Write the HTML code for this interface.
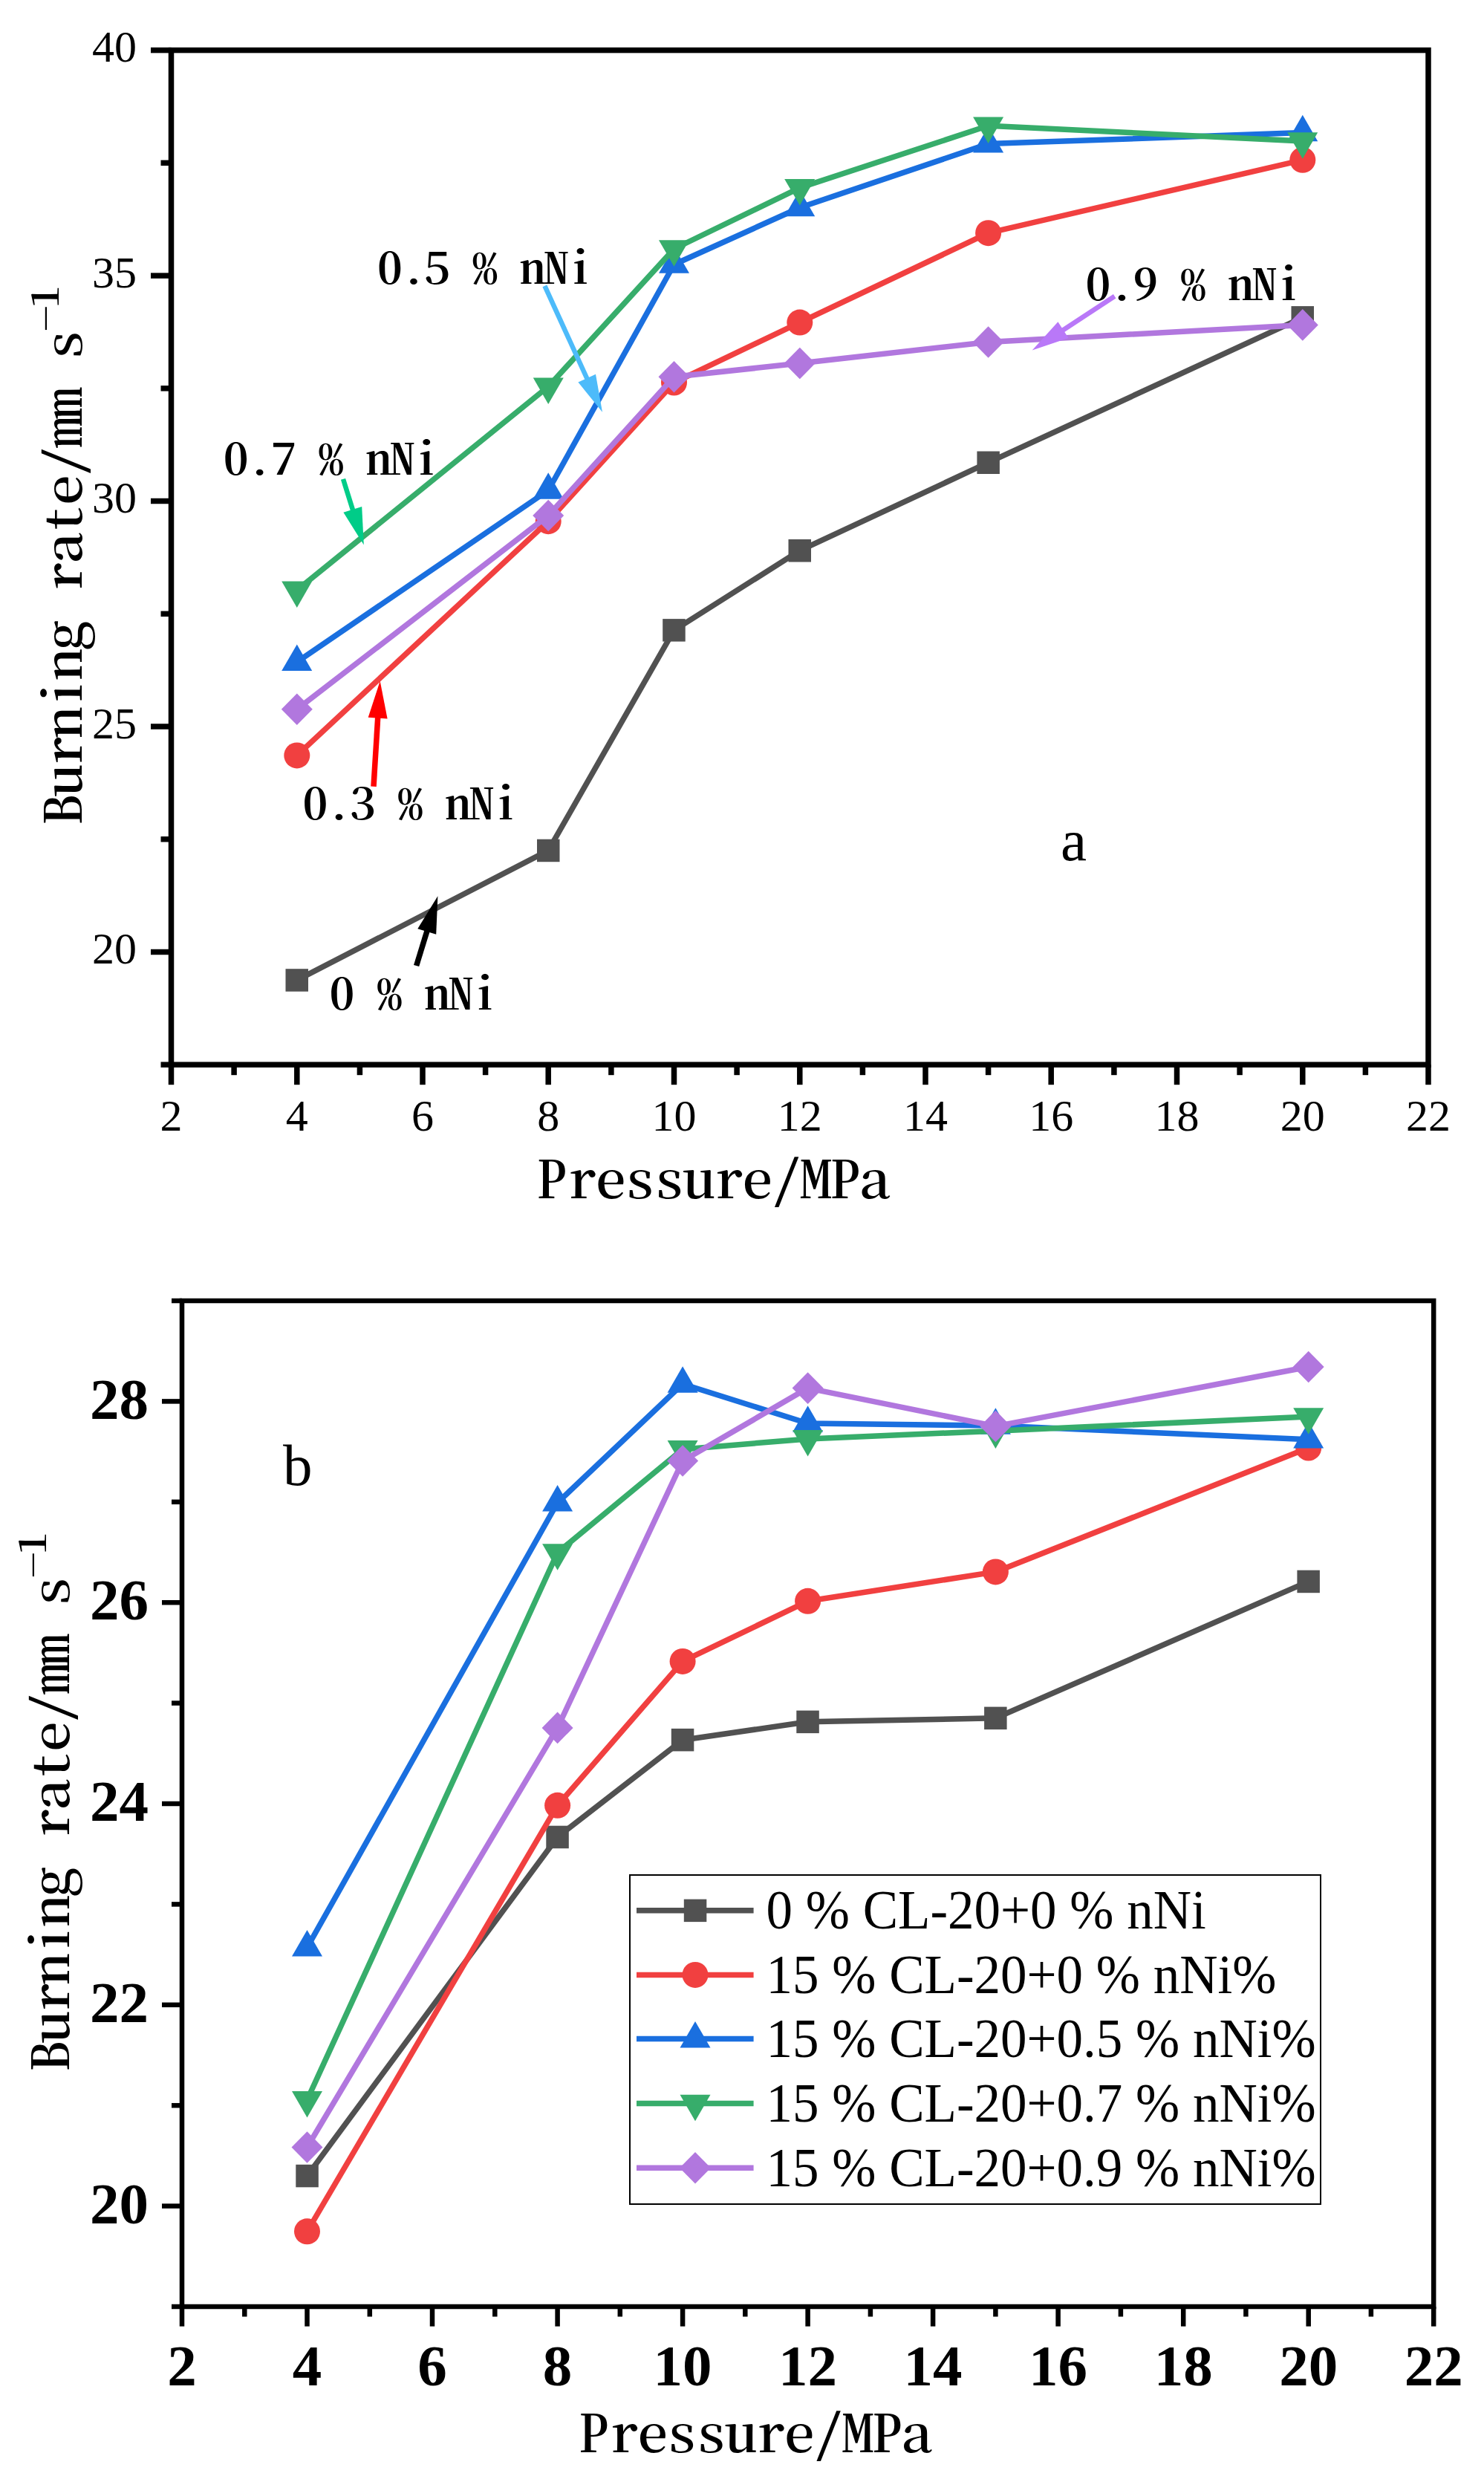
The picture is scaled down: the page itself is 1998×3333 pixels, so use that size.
<!DOCTYPE html><html><head><meta charset="utf-8"><title>Burning rate vs pressure</title><style>html,body{margin:0;padding:0;background:#fff;}svg{display:block;}.cj{font-feature-settings:"hwid" 1;}</style></head><body>
<svg width="1998" height="3333" viewBox="0 0 1998 3333">
<rect width="1998" height="3333" fill="#fff"/>
<line x1="230.5" y1="1433.2" x2="230.5" y2="1460.2" stroke="#000" stroke-width="7.5"/>
<line x1="315.1" y1="1433.2" x2="315.1" y2="1447.2" stroke="#000" stroke-width="7.5"/>
<line x1="399.8" y1="1433.2" x2="399.8" y2="1460.2" stroke="#000" stroke-width="7.5"/>
<line x1="484.4" y1="1433.2" x2="484.4" y2="1447.2" stroke="#000" stroke-width="7.5"/>
<line x1="569.0" y1="1433.2" x2="569.0" y2="1460.2" stroke="#000" stroke-width="7.5"/>
<line x1="653.6" y1="1433.2" x2="653.6" y2="1447.2" stroke="#000" stroke-width="7.5"/>
<line x1="738.2" y1="1433.2" x2="738.2" y2="1460.2" stroke="#000" stroke-width="7.5"/>
<line x1="822.9" y1="1433.2" x2="822.9" y2="1447.2" stroke="#000" stroke-width="7.5"/>
<line x1="907.5" y1="1433.2" x2="907.5" y2="1460.2" stroke="#000" stroke-width="7.5"/>
<line x1="992.1" y1="1433.2" x2="992.1" y2="1447.2" stroke="#000" stroke-width="7.5"/>
<line x1="1076.8" y1="1433.2" x2="1076.8" y2="1460.2" stroke="#000" stroke-width="7.5"/>
<line x1="1161.4" y1="1433.2" x2="1161.4" y2="1447.2" stroke="#000" stroke-width="7.5"/>
<line x1="1246.0" y1="1433.2" x2="1246.0" y2="1460.2" stroke="#000" stroke-width="7.5"/>
<line x1="1330.6" y1="1433.2" x2="1330.6" y2="1447.2" stroke="#000" stroke-width="7.5"/>
<line x1="1415.2" y1="1433.2" x2="1415.2" y2="1460.2" stroke="#000" stroke-width="7.5"/>
<line x1="1499.9" y1="1433.2" x2="1499.9" y2="1447.2" stroke="#000" stroke-width="7.5"/>
<line x1="1584.5" y1="1433.2" x2="1584.5" y2="1460.2" stroke="#000" stroke-width="7.5"/>
<line x1="1669.1" y1="1433.2" x2="1669.1" y2="1447.2" stroke="#000" stroke-width="7.5"/>
<line x1="1753.8" y1="1433.2" x2="1753.8" y2="1460.2" stroke="#000" stroke-width="7.5"/>
<line x1="1838.4" y1="1433.2" x2="1838.4" y2="1447.2" stroke="#000" stroke-width="7.5"/>
<line x1="1923.0" y1="1433.2" x2="1923.0" y2="1460.2" stroke="#000" stroke-width="7.5"/>
<line x1="216.5" y1="1433.2" x2="230.5" y2="1433.2" stroke="#000" stroke-width="7.5"/>
<line x1="203.0" y1="1281.5" x2="230.5" y2="1281.5" stroke="#000" stroke-width="7.5"/>
<line x1="216.5" y1="1129.7" x2="230.5" y2="1129.7" stroke="#000" stroke-width="7.5"/>
<line x1="203.0" y1="978.0" x2="230.5" y2="978.0" stroke="#000" stroke-width="7.5"/>
<line x1="216.5" y1="826.3" x2="230.5" y2="826.3" stroke="#000" stroke-width="7.5"/>
<line x1="203.0" y1="674.5" x2="230.5" y2="674.5" stroke="#000" stroke-width="7.5"/>
<line x1="216.5" y1="522.8" x2="230.5" y2="522.8" stroke="#000" stroke-width="7.5"/>
<line x1="203.0" y1="371.1" x2="230.5" y2="371.1" stroke="#000" stroke-width="7.5"/>
<line x1="216.5" y1="219.3" x2="230.5" y2="219.3" stroke="#000" stroke-width="7.5"/>
<line x1="203.0" y1="67.6" x2="230.5" y2="67.6" stroke="#000" stroke-width="7.5"/>
<rect x="230.5" y="67.6" width="1692.5" height="1365.6" fill="none" stroke="#000" stroke-width="7.5"/>
<text x="230.5" y="1521.7" font-family="'Liberation Serif','Times New Roman',serif" font-size="60" text-anchor="middle">2</text>
<text x="399.8" y="1521.7" font-family="'Liberation Serif','Times New Roman',serif" font-size="60" text-anchor="middle">4</text>
<text x="569.0" y="1521.7" font-family="'Liberation Serif','Times New Roman',serif" font-size="60" text-anchor="middle">6</text>
<text x="738.2" y="1521.7" font-family="'Liberation Serif','Times New Roman',serif" font-size="60" text-anchor="middle">8</text>
<text x="907.5" y="1521.7" font-family="'Liberation Serif','Times New Roman',serif" font-size="60" text-anchor="middle">10</text>
<text x="1076.8" y="1521.7" font-family="'Liberation Serif','Times New Roman',serif" font-size="60" text-anchor="middle">12</text>
<text x="1246.0" y="1521.7" font-family="'Liberation Serif','Times New Roman',serif" font-size="60" text-anchor="middle">14</text>
<text x="1415.2" y="1521.7" font-family="'Liberation Serif','Times New Roman',serif" font-size="60" text-anchor="middle">16</text>
<text x="1584.5" y="1521.7" font-family="'Liberation Serif','Times New Roman',serif" font-size="60" text-anchor="middle">18</text>
<text x="1753.8" y="1521.7" font-family="'Liberation Serif','Times New Roman',serif" font-size="60" text-anchor="middle">20</text>
<text x="1923.0" y="1521.7" font-family="'Liberation Serif','Times New Roman',serif" font-size="60" text-anchor="middle">22</text>
<text x="184" y="1297.1" font-family="'Liberation Serif','Times New Roman',serif" font-size="60" text-anchor="end">20</text>
<text x="184" y="993.6" font-family="'Liberation Serif','Times New Roman',serif" font-size="60" text-anchor="end">25</text>
<text x="184" y="690.1" font-family="'Liberation Serif','Times New Roman',serif" font-size="60" text-anchor="end">30</text>
<text x="184" y="386.7" font-family="'Liberation Serif','Times New Roman',serif" font-size="60" text-anchor="end">35</text>
<text x="184" y="83.2" font-family="'Liberation Serif','Times New Roman',serif" font-size="60" text-anchor="end">40</text>
<polyline points="399.8,1319.4 738.2,1144.9 907.5,848.4 1076.8,741.2 1330.6,622.7 1753.8,427.4" fill="none" stroke="#515151" stroke-width="7.5" stroke-linejoin="round"/><rect x="384.5" y="1304.2" width="30.5" height="30.5" fill="#515151"/><rect x="723.0" y="1129.7" width="30.5" height="30.5" fill="#515151"/><rect x="892.2" y="833.1" width="30.5" height="30.5" fill="#515151"/><rect x="1061.5" y="726.0" width="30.5" height="30.5" fill="#515151"/><rect x="1315.4" y="607.5" width="30.5" height="30.5" fill="#515151"/><rect x="1738.5" y="412.1" width="30.5" height="30.5" fill="#515151"/>
<polyline points="399.8,1016.9 738.2,701.7 907.5,515.0 1076.8,434.1 1330.6,313.7 1753.8,215.3" fill="none" stroke="#F14040" stroke-width="7.5" stroke-linejoin="round"/><circle cx="399.8" cy="1016.9" r="17.5" fill="#F14040"/><circle cx="738.2" cy="701.7" r="17.5" fill="#F14040"/><circle cx="907.5" cy="515.0" r="17.5" fill="#F14040"/><circle cx="1076.8" cy="434.1" r="17.5" fill="#F14040"/><circle cx="1330.6" cy="313.7" r="17.5" fill="#F14040"/><circle cx="1753.8" cy="215.3" r="17.5" fill="#F14040"/>
<polyline points="399.8,891.2 738.2,660.0 907.5,356.0 1076.8,279.5 1330.6,193.6 1753.8,178.5" fill="none" stroke="#1A6FDF" stroke-width="7.5" stroke-linejoin="round"/><polygon points="399.8,867.5 420.2,903.0 379.2,903.0" fill="#1A6FDF"/><polygon points="738.2,636.3 758.8,671.8 717.8,671.8" fill="#1A6FDF"/><polygon points="907.5,332.3 928.0,367.8 887.0,367.8" fill="#1A6FDF"/><polygon points="1076.8,255.8 1097.2,291.3 1056.2,291.3" fill="#1A6FDF"/><polygon points="1330.6,169.9 1351.1,205.4 1310.1,205.4" fill="#1A6FDF"/><polygon points="1753.8,154.8 1774.2,190.3 1733.2,190.3" fill="#1A6FDF"/>
<polyline points="399.8,794.4 738.2,520.4 907.5,335.0 1076.8,252.8 1330.6,169.3 1753.8,190.0" fill="none" stroke="#37AD6B" stroke-width="7.5" stroke-linejoin="round"/><polygon points="399.8,818.1 420.2,782.6 379.2,782.6" fill="#37AD6B"/><polygon points="738.2,544.1 758.8,508.6 717.8,508.6" fill="#37AD6B"/><polygon points="907.5,358.7 928.0,323.2 887.0,323.2" fill="#37AD6B"/><polygon points="1076.8,276.5 1097.2,241.0 1056.2,241.0" fill="#37AD6B"/><polygon points="1330.6,193.0 1351.1,157.5 1310.1,157.5" fill="#37AD6B"/><polygon points="1753.8,213.7 1774.2,178.2 1733.2,178.2" fill="#37AD6B"/>
<polyline points="399.8,954.8 738.2,694.0 907.5,507.3 1076.8,489.0 1330.6,460.5 1753.8,437.4" fill="none" stroke="#B177DE" stroke-width="7.5" stroke-linejoin="round"/><polygon points="399.8,933.5 420.8,954.8 399.8,976.1 378.8,954.8" fill="#B177DE"/><polygon points="738.2,672.7 759.2,694.0 738.2,715.3 717.2,694.0" fill="#B177DE"/><polygon points="907.5,486.0 928.5,507.3 907.5,528.6 886.5,507.3" fill="#B177DE"/><polygon points="1076.8,467.7 1097.8,489.0 1076.8,510.3 1055.8,489.0" fill="#B177DE"/><polygon points="1330.6,439.2 1351.6,460.5 1330.6,481.8 1309.6,460.5" fill="#B177DE"/><polygon points="1753.8,416.1 1774.8,437.4 1753.8,458.7 1732.8,437.4" fill="#B177DE"/>
<text class="cj" transform="translate(508.0,382.2) scale(1.0600,0.9)" font-family="'Noto Serif CJK SC','Noto Serif CJK JP',serif" font-size="64" font-weight="600" letter-spacing="-1.81" >0.5 % nNi</text>
<text class="cj" transform="translate(300.8,638.8) scale(1.0600,0.9)" font-family="'Noto Serif CJK SC','Noto Serif CJK JP',serif" font-size="64" font-weight="600" letter-spacing="-1.81" >0.7 % nNi</text>
<text class="cj" transform="translate(407.6,1103.4) scale(1.0600,0.9)" font-family="'Noto Serif CJK SC','Noto Serif CJK JP',serif" font-size="64" font-weight="600" letter-spacing="-1.81" >0.3 % nNi</text>
<text class="cj" transform="translate(443.5,1359.0) scale(1.0600,0.9)" font-family="'Noto Serif CJK SC','Noto Serif CJK JP',serif" font-size="64" font-weight="600" letter-spacing="-1.81" >0 % nNi</text>
<text class="cj" transform="translate(1461.5,404.2) scale(1.0600,0.9)" font-family="'Noto Serif CJK SC','Noto Serif CJK JP',serif" font-size="64" font-weight="600" letter-spacing="-1.81" >0.9 % nNi</text>
<line x1="733.4" y1="384.9" x2="791.0" y2="511.0" stroke="#4DBBFA" stroke-width="6.5"/><polygon points="811.0,554.7 778.4,514.6 802.0,503.8" fill="#4DBBFA"/>
<line x1="462.0" y1="644.9" x2="475.4" y2="687.7" stroke="#00CC88" stroke-width="6.5"/><polygon points="489.8,733.5 462.4,689.7 487.2,681.9" fill="#00CC88"/>
<line x1="503.0" y1="1058.7" x2="508.8" y2="964.6" stroke="#FF0000" stroke-width="7.5"/><polygon points="511.7,916.7 521.6,967.4 495.7,965.8" fill="#FF0000"/>
<line x1="560.6" y1="1300.0" x2="575.3" y2="1252.1" stroke="#000000" stroke-width="7.5"/><polygon points="589.4,1206.2 587.2,1257.8 562.3,1250.2" fill="#000000"/>
<line x1="1500.7" y1="398.8" x2="1429.9" y2="445.2" stroke="#B978F8" stroke-width="6.5"/><polygon points="1389.7,471.5 1424.4,433.2 1438.6,455.0" fill="#B978F8"/>
<text x="1428" y="1158" font-family="'Liberation Serif','Times New Roman',serif" font-size="79">a</text>
<text class="cj" transform="translate(722.3,1613.4) scale(1.0600,0.88)" font-family="'Noto Serif CJK SC','Noto Serif CJK JP',serif" font-size="79" font-weight="500" letter-spacing="-2.24" >Pressure/MPa</text>
<g transform="translate(110,1111) rotate(-90)"><text class="cj" transform="translate(0.0,0.0) scale(1.0600,0.86)" font-family="'Noto Serif CJK SC','Noto Serif CJK JP',serif" font-size="79" font-weight="500" letter-spacing="-2.61" >Burning rate/mm s<tspan font-size="56" font-weight="600" dy="-36" letter-spacing="-3">−1</tspan></text></g>
<line x1="245.0" y1="3105.0" x2="245.0" y2="3131.6" stroke="#000" stroke-width="6.5"/>
<line x1="329.3" y1="3105.0" x2="329.3" y2="3118.5" stroke="#000" stroke-width="6.5"/>
<line x1="413.5" y1="3105.0" x2="413.5" y2="3131.6" stroke="#000" stroke-width="6.5"/>
<line x1="497.8" y1="3105.0" x2="497.8" y2="3118.5" stroke="#000" stroke-width="6.5"/>
<line x1="582.0" y1="3105.0" x2="582.0" y2="3131.6" stroke="#000" stroke-width="6.5"/>
<line x1="666.3" y1="3105.0" x2="666.3" y2="3118.5" stroke="#000" stroke-width="6.5"/>
<line x1="750.6" y1="3105.0" x2="750.6" y2="3131.6" stroke="#000" stroke-width="6.5"/>
<line x1="834.8" y1="3105.0" x2="834.8" y2="3118.5" stroke="#000" stroke-width="6.5"/>
<line x1="919.1" y1="3105.0" x2="919.1" y2="3131.6" stroke="#000" stroke-width="6.5"/>
<line x1="1003.3" y1="3105.0" x2="1003.3" y2="3118.5" stroke="#000" stroke-width="6.5"/>
<line x1="1087.6" y1="3105.0" x2="1087.6" y2="3131.6" stroke="#000" stroke-width="6.5"/>
<line x1="1171.9" y1="3105.0" x2="1171.9" y2="3118.5" stroke="#000" stroke-width="6.5"/>
<line x1="1256.1" y1="3105.0" x2="1256.1" y2="3131.6" stroke="#000" stroke-width="6.5"/>
<line x1="1340.4" y1="3105.0" x2="1340.4" y2="3118.5" stroke="#000" stroke-width="6.5"/>
<line x1="1424.6" y1="3105.0" x2="1424.6" y2="3131.6" stroke="#000" stroke-width="6.5"/>
<line x1="1508.9" y1="3105.0" x2="1508.9" y2="3118.5" stroke="#000" stroke-width="6.5"/>
<line x1="1593.2" y1="3105.0" x2="1593.2" y2="3131.6" stroke="#000" stroke-width="6.5"/>
<line x1="1677.4" y1="3105.0" x2="1677.4" y2="3118.5" stroke="#000" stroke-width="6.5"/>
<line x1="1761.7" y1="3105.0" x2="1761.7" y2="3131.6" stroke="#000" stroke-width="6.5"/>
<line x1="1845.9" y1="3105.0" x2="1845.9" y2="3118.5" stroke="#000" stroke-width="6.5"/>
<line x1="1930.2" y1="3105.0" x2="1930.2" y2="3131.6" stroke="#000" stroke-width="6.5"/>
<line x1="231.0" y1="3105.0" x2="245.0" y2="3105.0" stroke="#000" stroke-width="6.5"/>
<line x1="218.0" y1="2969.6" x2="245.0" y2="2969.6" stroke="#000" stroke-width="6.5"/>
<line x1="231.0" y1="2834.2" x2="245.0" y2="2834.2" stroke="#000" stroke-width="6.5"/>
<line x1="218.0" y1="2698.8" x2="245.0" y2="2698.8" stroke="#000" stroke-width="6.5"/>
<line x1="231.0" y1="2563.4" x2="245.0" y2="2563.4" stroke="#000" stroke-width="6.5"/>
<line x1="218.0" y1="2428.0" x2="245.0" y2="2428.0" stroke="#000" stroke-width="6.5"/>
<line x1="231.0" y1="2292.6" x2="245.0" y2="2292.6" stroke="#000" stroke-width="6.5"/>
<line x1="218.0" y1="2157.2" x2="245.0" y2="2157.2" stroke="#000" stroke-width="6.5"/>
<line x1="231.0" y1="2021.8" x2="245.0" y2="2021.8" stroke="#000" stroke-width="6.5"/>
<line x1="218.0" y1="1886.4" x2="245.0" y2="1886.4" stroke="#000" stroke-width="6.5"/>
<line x1="231.0" y1="1751.0" x2="245.0" y2="1751.0" stroke="#000" stroke-width="6.5"/>
<rect x="245.0" y="1751.0" width="1685.2" height="1354.0" fill="none" stroke="#000" stroke-width="6.5"/>
<text x="245.0" y="3210.5" font-family="'Liberation Serif','Times New Roman',serif" font-size="79" font-weight="bold" text-anchor="middle">2</text>
<text x="413.5" y="3210.5" font-family="'Liberation Serif','Times New Roman',serif" font-size="79" font-weight="bold" text-anchor="middle">4</text>
<text x="582.0" y="3210.5" font-family="'Liberation Serif','Times New Roman',serif" font-size="79" font-weight="bold" text-anchor="middle">6</text>
<text x="750.6" y="3210.5" font-family="'Liberation Serif','Times New Roman',serif" font-size="79" font-weight="bold" text-anchor="middle">8</text>
<text x="919.1" y="3210.5" font-family="'Liberation Serif','Times New Roman',serif" font-size="79" font-weight="bold" text-anchor="middle">10</text>
<text x="1087.6" y="3210.5" font-family="'Liberation Serif','Times New Roman',serif" font-size="79" font-weight="bold" text-anchor="middle">12</text>
<text x="1256.1" y="3210.5" font-family="'Liberation Serif','Times New Roman',serif" font-size="79" font-weight="bold" text-anchor="middle">14</text>
<text x="1424.6" y="3210.5" font-family="'Liberation Serif','Times New Roman',serif" font-size="79" font-weight="bold" text-anchor="middle">16</text>
<text x="1593.2" y="3210.5" font-family="'Liberation Serif','Times New Roman',serif" font-size="79" font-weight="bold" text-anchor="middle">18</text>
<text x="1761.7" y="3210.5" font-family="'Liberation Serif','Times New Roman',serif" font-size="79" font-weight="bold" text-anchor="middle">20</text>
<text x="1930.2" y="3210.5" font-family="'Liberation Serif','Times New Roman',serif" font-size="79" font-weight="bold" text-anchor="middle">22</text>
<text x="200" y="2992.8" font-family="'Liberation Serif','Times New Roman',serif" font-size="79" font-weight="bold" text-anchor="end">20</text>
<text x="200" y="2722.0" font-family="'Liberation Serif','Times New Roman',serif" font-size="79" font-weight="bold" text-anchor="end">22</text>
<text x="200" y="2451.2" font-family="'Liberation Serif','Times New Roman',serif" font-size="79" font-weight="bold" text-anchor="end">24</text>
<text x="200" y="2180.4" font-family="'Liberation Serif','Times New Roman',serif" font-size="79" font-weight="bold" text-anchor="end">26</text>
<text x="200" y="1909.6" font-family="'Liberation Serif','Times New Roman',serif" font-size="79" font-weight="bold" text-anchor="end">28</text>
<polyline points="413.5,2929.1 750.6,2472.9 919.1,2342.2 1087.6,2317.8 1340.4,2312.8 1761.7,2128.9" fill="none" stroke="#515151" stroke-width="7.5" stroke-linejoin="round"/><rect x="398.3" y="2913.8" width="30.5" height="30.5" fill="#515151"/><rect x="735.3" y="2457.7" width="30.5" height="30.5" fill="#515151"/><rect x="903.8" y="2326.9" width="30.5" height="30.5" fill="#515151"/><rect x="1072.3" y="2302.6" width="30.5" height="30.5" fill="#515151"/><rect x="1325.1" y="2297.6" width="30.5" height="30.5" fill="#515151"/><rect x="1746.4" y="2113.7" width="30.5" height="30.5" fill="#515151"/>
<polyline points="413.5,3003.8 750.6,2430.3 919.1,2236.4 1087.6,2155.3 1340.4,2115.9 1761.7,1949.0" fill="none" stroke="#F14040" stroke-width="7.5" stroke-linejoin="round"/><circle cx="413.5" cy="3003.8" r="17.5" fill="#F14040"/><circle cx="750.6" cy="2430.3" r="17.5" fill="#F14040"/><circle cx="919.1" cy="2236.4" r="17.5" fill="#F14040"/><circle cx="1087.6" cy="2155.3" r="17.5" fill="#F14040"/><circle cx="1340.4" cy="2115.9" r="17.5" fill="#F14040"/><circle cx="1761.7" cy="1949.0" r="17.5" fill="#F14040"/>
<polyline points="413.5,2621.7 750.6,2022.8 919.1,1863.0 1087.6,1916.0 1340.4,1919.0 1761.7,1937.7" fill="none" stroke="#1A6FDF" stroke-width="7.5" stroke-linejoin="round"/><polygon points="413.5,2598.0 434.0,2633.5 393.0,2633.5" fill="#1A6FDF"/><polygon points="750.6,1999.1 771.1,2034.6 730.1,2034.6" fill="#1A6FDF"/><polygon points="919.1,1839.3 939.6,1874.8 898.6,1874.8" fill="#1A6FDF"/><polygon points="1087.6,1892.3 1108.1,1927.8 1067.1,1927.8" fill="#1A6FDF"/><polygon points="1340.4,1895.3 1360.9,1930.8 1319.9,1930.8" fill="#1A6FDF"/><polygon points="1761.7,1914.0 1782.2,1949.5 1741.2,1949.5" fill="#1A6FDF"/>
<polyline points="413.5,2826.8 750.6,2090.0 919.1,1950.9 1087.6,1936.9 1340.4,1926.2 1761.7,1907.1" fill="none" stroke="#37AD6B" stroke-width="7.5" stroke-linejoin="round"/><polygon points="413.5,2850.5 434.0,2815.0 393.0,2815.0" fill="#37AD6B"/><polygon points="750.6,2113.7 771.1,2078.2 730.1,2078.2" fill="#37AD6B"/><polygon points="919.1,1974.6 939.6,1939.1 898.6,1939.1" fill="#37AD6B"/><polygon points="1087.6,1960.6 1108.1,1925.1 1067.1,1925.1" fill="#37AD6B"/><polygon points="1340.4,1949.9 1360.9,1914.4 1319.9,1914.4" fill="#37AD6B"/><polygon points="1761.7,1930.8 1782.2,1895.3 1741.2,1895.3" fill="#37AD6B"/>
<polyline points="413.5,2890.5 750.6,2325.9 919.1,1966.5 1087.6,1868.6 1340.4,1919.9 1761.7,1840.0" fill="none" stroke="#B177DE" stroke-width="7.5" stroke-linejoin="round"/><polygon points="413.5,2869.2 434.5,2890.5 413.5,2911.8 392.5,2890.5" fill="#B177DE"/><polygon points="750.6,2304.6 771.6,2325.9 750.6,2347.2 729.6,2325.9" fill="#B177DE"/><polygon points="919.1,1945.2 940.1,1966.5 919.1,1987.8 898.1,1966.5" fill="#B177DE"/><polygon points="1087.6,1847.3 1108.6,1868.6 1087.6,1889.9 1066.6,1868.6" fill="#B177DE"/><polygon points="1340.4,1898.6 1361.4,1919.9 1340.4,1941.2 1319.4,1919.9" fill="#B177DE"/><polygon points="1761.7,1818.7 1782.7,1840.0 1761.7,1861.3 1740.7,1840.0" fill="#B177DE"/>
<rect x="848" y="2524" width="930" height="443" fill="#fff" stroke="#000" stroke-width="2"/>
<line x1="857" y1="2571.8" x2="1014.6" y2="2571.8" stroke="#515151" stroke-width="7.5"/>
<rect x="920.8" y="2556.6" width="30.5" height="30.5" fill="#515151"/>
<text transform="translate(1031.5,2596.2) scale(0.947,1)" font-family="'Liberation Serif','Times New Roman',serif" font-size="75">0 % CL-20+0 % nNi</text>
<line x1="857" y1="2658.4" x2="1014.6" y2="2658.4" stroke="#F14040" stroke-width="7.5"/>
<circle cx="936.0" cy="2658.4" r="17.5" fill="#F14040"/>
<text transform="translate(1031.5,2682.8) scale(0.947,1)" font-family="'Liberation Serif','Times New Roman',serif" font-size="75">15 % CL-20+0 % nNi%</text>
<line x1="857" y1="2744.6" x2="1014.6" y2="2744.6" stroke="#1A6FDF" stroke-width="7.5"/>
<polygon points="936.0,2720.9 956.5,2756.4 915.5,2756.4" fill="#1A6FDF"/>
<text transform="translate(1031.5,2769.0) scale(0.947,1)" font-family="'Liberation Serif','Times New Roman',serif" font-size="75">15 % CL-20+0.5 % nNi%</text>
<line x1="857" y1="2831.6" x2="1014.6" y2="2831.6" stroke="#37AD6B" stroke-width="7.5"/>
<polygon points="936.0,2855.3 956.5,2819.8 915.5,2819.8" fill="#37AD6B"/>
<text transform="translate(1031.5,2856.0) scale(0.947,1)" font-family="'Liberation Serif','Times New Roman',serif" font-size="75">15 % CL-20+0.7 % nNi%</text>
<line x1="857" y1="2918.2" x2="1014.6" y2="2918.2" stroke="#B177DE" stroke-width="7.5"/>
<polygon points="936.0,2896.9 957.0,2918.2 936.0,2939.5 915.0,2918.2" fill="#B177DE"/>
<text transform="translate(1031.5,2942.6) scale(0.947,1)" font-family="'Liberation Serif','Times New Roman',serif" font-size="75">15 % CL-20+0.9 % nNi%</text>
<text x="381" y="1999" font-family="'Liberation Serif','Times New Roman',serif" font-size="79">b</text>
<text class="cj" transform="translate(778.8,3300.6) scale(1.0600,0.88)" font-family="'Noto Serif CJK SC','Noto Serif CJK JP',serif" font-size="79" font-weight="500" letter-spacing="-2.24" >Pressure/MPa</text>
<g transform="translate(92.7,2789) rotate(-90)"><text class="cj" transform="translate(0.0,0.0) scale(1.0600,0.86)" font-family="'Noto Serif CJK SC','Noto Serif CJK JP',serif" font-size="79" font-weight="500" letter-spacing="-2.61" >Burning rate/mm s<tspan font-size="56" font-weight="600" dy="-36" letter-spacing="-3">−1</tspan></text></g>
</svg></body></html>
